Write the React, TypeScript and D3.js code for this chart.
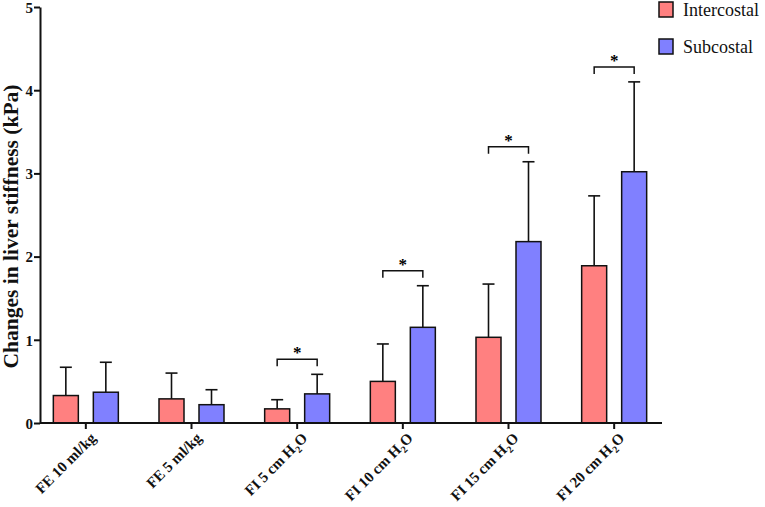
import { useEffect, useRef } from 'react';
import * as d3 from 'd3';

// categories ("H2O" labels get a subscript 2)
const categories = ['FE 10 ml/kg', 'FE 5 ml/kg', 'FI 5 cm H2O', 'FI 10 cm H2O', 'FI 15 cm H2O', 'FI 20 cm H2O'];
const intercostal = [0.33, 0.29, 0.17, 0.50, 1.03, 1.89];
const intercostalSd = [0.34, 0.31, 0.11, 0.45, 0.64, 0.84];
const subcostal = [0.37, 0.22, 0.35, 1.15, 2.18, 3.02];
const subcostalSd = [0.36, 0.18, 0.235, 0.50, 0.96, 1.08];
const significant = [false, false, true, true, true, true];
const yTicks = [0, 1, 2, 3, 4, 5];
const seriesNames = ['Intercostal', 'Subcostal'];
const colors = ['#FF8080', '#8080FF'];

const font = 'Liberation Serif, Times New Roman, serif';

export default function App() {
  const svgRef = useRef<SVGSVGElement>(null);

  useEffect(() => {
    if (!svgRef.current) return;
    const width = 765;
    const height = 507;
    const svg = d3.select(svgRef.current)
      .attr('width', width)
      .attr('height', height)
      .style('font-family', font);
    svg.selectAll('*').remove();

    const x = d3.scaleBand<string>().domain(categories).range([33, 667]).paddingInner(0).paddingOuter(0);
    const y = d3.scaleLinear().domain([0, 5]).range([423, 7]);
    const barW = 25;
    const offset = 20;

    const groups = svg.append('g');
    const series = [
      { vals: intercostal, sd: intercostalSd, dx: -offset, color: colors[0] },
      { vals: subcostal, sd: subcostalSd, dx: offset, color: colors[1] },
    ];

    series.forEach((s) => {
      categories.forEach((c, i) => {
        const cx = x(c)! + x.bandwidth() / 2 + s.dx;
        const top = y(s.vals[i] + s.sd[i]);
        // error bar (upper only)
        groups.append('line')
          .attr('x1', cx).attr('x2', cx)
          .attr('y1', y(s.vals[i])).attr('y2', top)
          .attr('stroke', '#111').attr('stroke-width', 1.6);
        groups.append('line')
          .attr('x1', cx - 6).attr('x2', cx + 6)
          .attr('y1', top).attr('y2', top)
          .attr('stroke', '#111').attr('stroke-width', 1.6);
        groups.append('rect')
          .attr('x', cx - barW / 2)
          .attr('y', y(s.vals[i]))
          .attr('width', barW)
          .attr('height', y(0) - y(s.vals[i]))
          .attr('fill', s.color)
          .attr('stroke', '#111')
          .attr('stroke-width', 1.5);
      });
    });

    // significance brackets
    categories.forEach((c, i) => {
      if (!significant[i]) return;
      const cx = x(c)! + x.bandwidth() / 2;
      const errTop = y(subcostal[i] + subcostalSd[i]);
      const by = errTop - 15;
      const x1 = cx - offset;
      const x2 = cx + offset;
      svg.append('path')
        .attr('d', `M${x1},${by + 7}V${by}H${x2}V${by + 7}`)
        .attr('fill', 'none')
        .attr('stroke', '#111')
        .attr('stroke-width', 1.5);
      svg.append('text')
        .attr('x', cx)
        .attr('y', by - 1)
        .attr('text-anchor', 'middle')
        .style('font-family', font)
        .style('font-weight', 'bold')
        .style('font-size', '17px')
        .text('*');
    });

    // y axis
    const yAxis = svg.append('g')
      .attr('transform', 'translate(40,0)')
      .call(d3.axisLeft(y).tickValues(yTicks).tickFormat(d3.format('d')).tickSize(6).tickSizeOuter(0));
    yAxis.attr('font-family', null);
    yAxis.select('.domain').attr('stroke', '#111').attr('stroke-width', 2);
    yAxis.selectAll('.tick line').attr('stroke', '#111').attr('stroke-width', 2);
    yAxis.selectAll('.tick text')
      .style('font-family', font)
      .style('font-weight', 'bold')
      .style('font-size', '15px')
      .attr('fill', '#111')
      .attr('dy', '0.35em')
      .attr('x', -7);

    // x axis
    const xAxis = svg.append('g')
      .attr('transform', 'translate(0,423)')
      .call(d3.axisBottom(x).tickSize(6).tickSizeOuter(0).tickFormat(() => ''));
    xAxis.select('.domain').attr('d', 'M40,0H662').attr('stroke', '#111').attr('stroke-width', 2);
    xAxis.selectAll('.tick line').attr('stroke', '#111').attr('stroke-width', 2);

    // rotated category labels
    categories.forEach((c) => {
      const cx = x(c)! + x.bandwidth() / 2;
      const t = svg.append('text')
        .attr('transform', `translate(${cx + 11},${439}) rotate(-45)`)
        .attr('text-anchor', 'end')
        .style('font-family', font)
        .style('font-weight', 'bold')
        .style('font-size', '15px')
        .attr('fill', '#111');
      if (c.endsWith('H2O')) {
        t.append('tspan').text(c.replace('H2O', 'H'));
        t.append('tspan').style('font-size', '10px').attr('dy', 4).text('2');
        t.append('tspan').attr('dy', -4).text('O');
      } else {
        t.text(c);
      }
    });

    // y axis title
    svg.append('text')
      .attr('transform', 'translate(18,226.5) rotate(-90)')
      .attr('text-anchor', 'middle')
      .style('font-family', font)
      .style('font-weight', 'bold')
      .style('font-size', '21.5px')
      .attr('fill', '#111')
      .text('Changes in liver stiffness (kPa)');

    // legend
    seriesNames.forEach((name, i) => {
      const ly = 2 + i * 37;
      svg.append('rect')
        .attr('x', 659).attr('y', ly)
        .attr('width', 14).attr('height', 15)
        .attr('fill', colors[i])
        .attr('stroke', '#111')
        .attr('stroke-width', 1.5);
      svg.append('text')
        .attr('x', 683).attr('y', ly + 14)
        .style('font-family', font)
        .style('font-size', '18px')
        .attr('fill', '#111')
        .text(name);
    });
  }, []);

  return (
    <div style={{ position: 'absolute', left: 0, top: 0 }}>
      <svg ref={svgRef} style={{ display: 'block' }} />
    </div>
  );
}
